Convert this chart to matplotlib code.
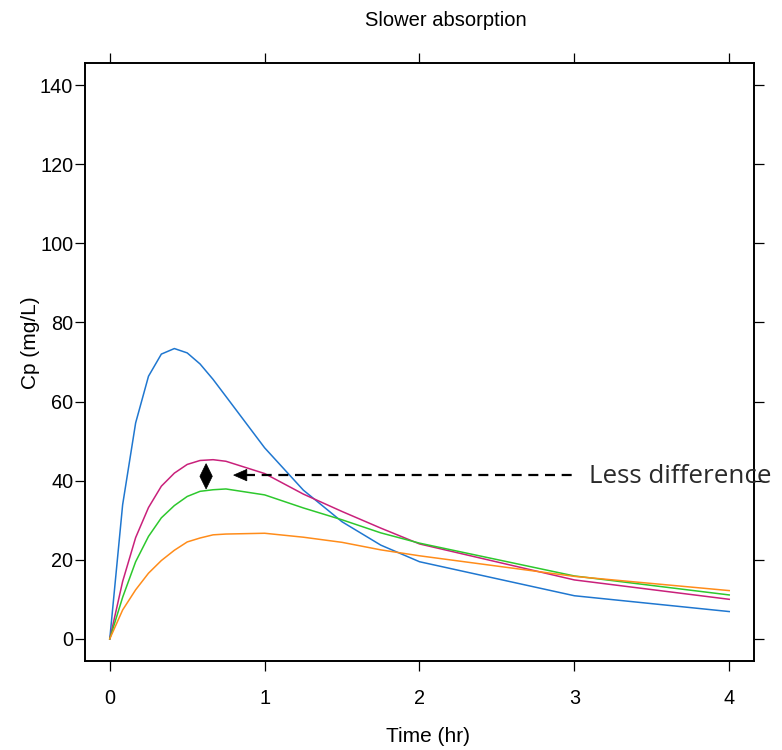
import matplotlib
matplotlib.use("Agg")
import matplotlib.pyplot as plt
from matplotlib.patches import Polygon

plt.rcParams['font.family'] = ['Liberation Sans', 'DejaVu Sans']

# ---- data ----
times = [0, 0.083, 0.167, 0.25, 0.333, 0.417, 0.5, 0.583, 0.667, 0.75,
         1, 1.25, 1.5, 1.75, 2, 3, 4]
cp_blue = [0, 33.9, 54.6, 66.4, 72.0, 73.4, 72.3, 69.5, 65.6, 61.3,
           48.3, 37.6, 29.6, 23.7, 19.5, 10.9, 6.9]
cp_magenta = [0, 14.5, 25.6, 33.2, 38.6, 41.9, 44.1, 45.1, 45.3, 44.9,
              41.8, 36.6, 32.2, 28.0, 24.0, 14.9, 10.0]
cp_green = [0, 10.5, 19.5, 25.9, 30.6, 33.7, 36.0, 37.3, 37.7, 37.9,
            36.4, 33.1, 30.1, 26.8, 24.2, 15.9, 11.1]
cp_orange = [0, 7.3, 12.4, 16.6, 19.8, 22.4, 24.5, 25.5, 26.3, 26.5,
             26.7, 25.7, 24.4, 22.5, 21.0, 15.8, 12.2]
series = [cp_blue, cp_magenta, cp_green, cp_orange]
colors = ["#1F77D0", "#C9217B", "#2DC82D", "#FF8C1A"]

x_ticks = [0, 1, 2, 3, 4]
y_ticks = [0, 20, 40, 60, 80, 100, 120, 140]

title = "Slower absorption"
xlabel = "Time (hr)"
ylabel = "Cp (mg/L)"
annot_text = "Less difference"

# ---- figure ----
fig = plt.figure(figsize=(7.82, 7.5), dpi=100)
ax = fig.add_axes([85/782, 1-661/750, (754-85)/782, (661-63)/750])

for vals, c in zip(series, colors):
    ax.plot(times, vals, color=c, lw=1.1, solid_joinstyle='round')

ax.set_xlim(-0.16, 4.16)
ax.set_ylim(-5.6, 145.6)
ax.set_xticks(x_ticks)
ax.set_yticks(y_ticks)
ax.tick_params(direction='out', length=7, width=0.9, labelsize=14.3,
               top=True, right=True, labeltop=False, labelright=False)
ax.tick_params(axis='x', pad=13)
ax.tick_params(axis='y', pad=1.5)
for s in ax.spines.values():
    s.set_linewidth(1.4)

fig.text(446/782, 1-20/750, title, ha='center', va='center', fontsize=14.5)
fig.text(428/782, 1-737/750, xlabel, ha='center', va='center', fontsize=15)
fig.text(30/782, 1-343/750, ylabel, ha='center', va='center', fontsize=15,
         rotation=90)

# ---- annotation ----
y_arrow = 41.4
ax.plot([0.875, 3.01], [y_arrow, y_arrow], color='black', lw=1.6,
        dashes=(4.5, 3), clip_on=False, zorder=5)
ax.add_patch(Polygon([[0.80, y_arrow], [0.885, y_arrow + 1.45],
                      [0.885, y_arrow - 1.45]], closed=True,
                     facecolor='black', edgecolor='black', lw=0.5, zorder=6))
xd = 0.622
ax.add_patch(Polygon([[xd, 44.3], [xd + 0.04, 41.1], [xd, 37.9],
                      [xd - 0.04, 41.1]], closed=True,
                     facecolor='black', edgecolor='black', lw=0.5, zorder=6))
fig.text(589/782, 1-476/750, annot_text, ha='left', va='center',
         fontsize=18.7, color='#2a2a2a', family=['Open Sans', 'DejaVu Sans'])

fig.savefig("out.png", dpi=100)
